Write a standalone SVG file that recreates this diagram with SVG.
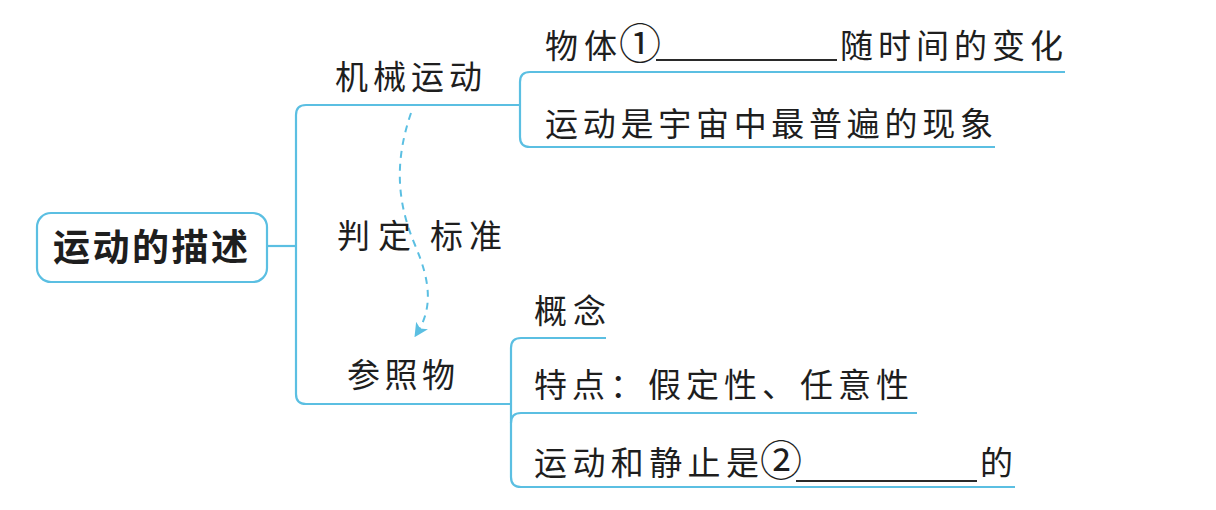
<svg xmlns="http://www.w3.org/2000/svg" width="1216" height="510" viewBox="0 0 1216 510">
<style>
.ln{fill:none;stroke:#5bbfe2;stroke-width:2.2}
.t{font-family:"Noto Sans CJK SC","Noto Sans",sans-serif;font-size:33px;fill:#1e1e1e}
.circ{font-family:"Noto Sans CJK SC","Noto Sans",sans-serif;font-size:42px;fill:#1e1e1e}
.blank{stroke:#2a2a2a;stroke-width:2}
</style>
<defs>
<marker id="ah" viewBox="0 0 10 10" refX="8" refY="5" markerWidth="7" markerHeight="7" orient="auto" markerUnits="strokeWidth">
<path d="M0,0 L10,5 L0,10 L2.5,5 Z" fill="#5bbfe2"/>
</marker>
</defs>
<rect width="1216" height="510" fill="#ffffff"/>
<g id="connectors">
<path class="ln" d="M267,246 H296"/>
<path class="ln" d="M520,105 H306 Q296,105 296,115 V394 Q296,404 306,404 H511"/>
<path class="ln" d="M1065,72 H530 Q520,72 520,82 V137 Q520,147 530,147 H995"/>
<path class="ln" d="M606,338 H521 Q511,338 511,348 V477 Q511,487 521,487 H1015"/>
<path class="ln" d="M917,413 H521 Q511,413 511,423"/>
<path d="M411,113 C395,160 396,200 415,245 C432,285 432,310 416,335" fill="none" stroke="#5bbfe2" stroke-width="2" stroke-dasharray="7 6" marker-end="url(#ah)"/>
</g>
<g id="root">
<rect x="37" y="213" width="230" height="69" rx="14" ry="14" fill="#ffffff" stroke="#5bbfe2" stroke-width="2.2"/>
<text class="t" x="53" y="261" textLength="195" lengthAdjust="spacing" style="font-size:37px;font-weight:bold">运动的描述</text>
</g>
<g id="n-jixie">
<text class="t" x="335" y="89" textLength="147" lengthAdjust="spacing">机械运动</text>
</g>
<g id="n-wuti">
<text class="t" x="545" y="58" textLength="72" lengthAdjust="spacing">物体</text>
<text class="circ" x="619" y="59">①</text>
<line class="blank" x1="656" y1="60" x2="837" y2="60"/>
<text class="t" x="840" y="58" textLength="223" lengthAdjust="spacing">随时间的变化</text>
</g>
<g id="n-yundong">
<text class="t" x="545" y="136" textLength="448" lengthAdjust="spacing">运动是宇宙中最普遍的现象</text>
</g>
<g id="label-panding">
<text class="t" x="337" y="248" textLength="74" lengthAdjust="spacing">判定</text>
<text class="t" x="430" y="248" textLength="72" lengthAdjust="spacing">标准</text>
</g>
<g id="n-canzhao">
<text class="t" x="347" y="387" textLength="108" lengthAdjust="spacing">参照物</text>
</g>
<g id="n-gainian">
<text class="t" x="534" y="323" textLength="72" lengthAdjust="spacing">概念</text>
</g>
<g id="n-tedian">
<text class="t" x="534" y="397" textLength="375" lengthAdjust="spacing">特点：假定性、任意性</text>
</g>
<g id="n-jingzhi">
<text class="t" x="534" y="475" textLength="225" lengthAdjust="spacing">运动和静止是</text>
<text class="circ" x="760" y="476">②</text>
<line class="blank" x1="796" y1="481" x2="977" y2="481"/>
<text class="t" x="980" y="475" textLength="34" lengthAdjust="spacing">的</text>
</g>
</svg>
